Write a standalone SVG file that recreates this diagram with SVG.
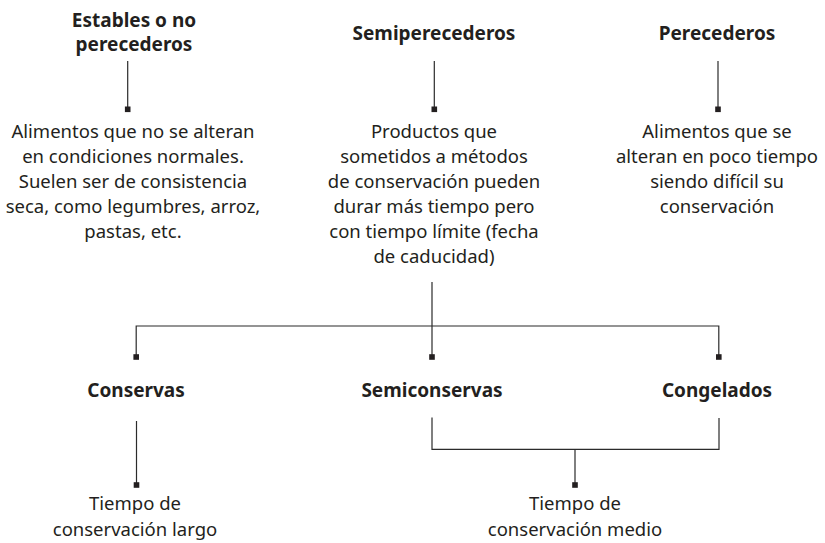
<svg xmlns="http://www.w3.org/2000/svg" width="825" height="543" viewBox="0 0 825 543">
<style>
.t{font-family:"Noto Sans","Open Sans","DejaVu Sans",sans-serif;font-weight:bold;font-size:19px;fill:#231f20;text-anchor:middle}
.d{font-family:"Noto Sans","Open Sans","DejaVu Sans",sans-serif;font-size:18.5px;fill:#231f20;text-anchor:middle}
.c line,.c polyline{stroke:#2b2b2b;stroke-width:1.2;fill:none}
.c rect{fill:#231f20}
</style>
<rect width="825" height="543" fill="#ffffff"/>
<g id="estables">
<text class="t" x="134" y="27"><tspan x="134">Estables o no</tspan><tspan x="134" dy="23.5">perecederos</tspan></text>
</g>
<g id="estables-desc">
<text class="d" x="133" y="138">Alimentos que no se alteran</text>
<text class="d" x="133" y="163">en condiciones normales.</text>
<text class="d" x="133" y="188">Suelen ser de consistencia</text>
<text class="d" x="133" y="213">seca, como legumbres, arroz,</text>
<text class="d" x="133" y="238">pastas, etc.</text>
</g>
<g id="semiperecederos">
<text class="t" x="434" y="40">Semiperecederos</text>
</g>
<g id="semiperecederos-desc">
<text class="d" x="434" y="138">Productos que</text>
<text class="d" x="434" y="163">sometidos a métodos</text>
<text class="d" x="434" y="188">de conservación pueden</text>
<text class="d" x="434" y="213">durar más tiempo pero</text>
<text class="d" x="434" y="238">con tiempo límite (fecha</text>
<text class="d" x="434" y="263">de caducidad)</text>
</g>
<g id="perecederos">
<text class="t" x="717" y="40">Perecederos</text>
</g>
<g id="perecederos-desc">
<text class="d" x="717" y="138">Alimentos que se</text>
<text class="d" x="717" y="163">alteran en poco tiempo</text>
<text class="d" x="717" y="188">siendo difícil su</text>
<text class="d" x="717" y="213">conservación</text>
</g>
<g id="conservas">
<text class="t" x="136" y="397">Conservas</text>
</g>
<g id="semiconservas">
<text class="t" x="432" y="397">Semiconservas</text>
</g>
<g id="congelados">
<text class="t" x="717" y="397">Congelados</text>
</g>
<g id="largo">
<text class="d" x="135" y="510">Tiempo de</text>
<text class="d" x="135" y="535.5">conservación largo</text>
</g>
<g id="medio">
<text class="d" x="575" y="510">Tiempo de</text>
<text class="d" x="575" y="535.5">conservación medio</text>
</g>
<g id="connectors" class="c">
<line x1="127.7" y1="61" x2="127.7" y2="108"/>
<rect x="124.9" y="106.5" width="5.6" height="5.6"/>
<line x1="434.3" y1="61" x2="434.3" y2="108"/>
<rect x="431.5" y="106.5" width="5.6" height="5.6"/>
<line x1="718" y1="61" x2="718" y2="108"/>
<rect x="715.2" y="106.5" width="5.6" height="5.6"/>
<line x1="432" y1="282" x2="432" y2="356"/>
<polyline points="136.2,356 136.2,326 718.8,326 718.8,356"/>
<rect x="133.4" y="354.2" width="5.6" height="5.6"/>
<rect x="429.2" y="354.2" width="5.6" height="5.6"/>
<rect x="716" y="354.2" width="5.6" height="5.6"/>
<line x1="136.5" y1="421" x2="136.5" y2="484"/>
<rect x="133.7" y="482.2" width="5.6" height="5.6"/>
<polyline points="432,417.5 432,449.3 719,449.3 719,418"/>
<line x1="575" y1="449.3" x2="575" y2="484"/>
<rect x="572.2" y="482.2" width="5.6" height="5.6"/>
</g>
</svg>
